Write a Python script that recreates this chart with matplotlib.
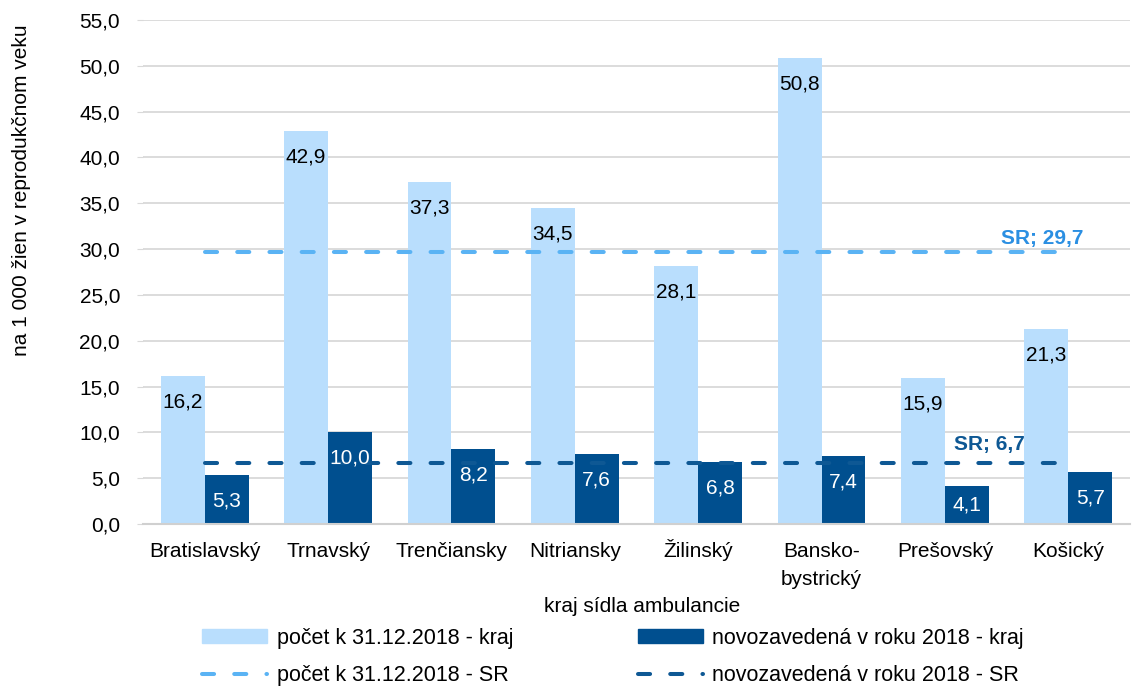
import matplotlib.pyplot as plt
import numpy as np
from matplotlib.lines import Line2D
from matplotlib.patches import Patch

plt.rcParams['font.family'] = ['Liberation Sans', 'DejaVu Sans']

regions = ["Bratislavský", "Trnavský", "Trenčiansky", "Nitriansky", "Žilinský",
           "Bansko-\nbystrický", "Prešovský", "Košický"]
count_2018 = [16.2, 42.9, 37.3, 34.5, 28.1, 50.8, 15.9, 21.3]
new_2018 = [5.3, 10.0, 8.2, 7.6, 6.8, 7.4, 4.1, 5.7]
sr_count = 29.7
sr_new = 6.7

light = "#B9DEFD"
dark = "#004F8F"
light_line = "#5AB3F4"
light_text = "#2B8FE2"
dark_line = "#0E5894"
fs = 15

fig = plt.figure(figsize=(11.35, 6.88), dpi=100)
ax = fig.add_axes([0.126, 0.2384, 0.8696, 0.7326])

x = np.arange(len(regions))
w = 0.356
b1 = ax.bar(x - w / 2, count_2018, w, color=light, zorder=2)
b2 = ax.bar(x + w / 2, new_2018, w, color=dark, zorder=2)

ax.plot(x, [sr_count] * len(x), color=light_line, lw=2.9,
        dashes=(3.0, 5.0), dash_capstyle="round", zorder=3)
ax.plot(x, [sr_new] * len(x), color=dark_line, lw=2.9,
        dashes=(3.0, 5.0), dash_capstyle="round", zorder=3)

fmt = lambda v: f"{v:.1f}".replace(".", ",")
px = 72 / 100  # points per pixel
for rect, v in zip(b1, count_2018):
    ax.annotate(fmt(v), (rect.get_x() + rect.get_width() / 2, v),
                xytext=(0, -26 * px), textcoords="offset points",
                ha="center", va="center", fontsize=fs, color="black", zorder=4)
for rect, v in zip(b2, new_2018):
    hpx = v * 504 / 55
    off = min(26, hpx - 19)
    ax.annotate(fmt(v), (rect.get_x() + rect.get_width() / 2, v),
                xytext=(0, -off * px), textcoords="offset points",
                ha="center", va="center", fontsize=fs, color="white", zorder=4)

ax.text(6.79, 31.2, "SR; 29,7", color=light_text, fontsize=fs,
        fontweight="bold", ha="center", va="center", zorder=4)
ax.text(6.36, 8.62, "SR; 6,7", color=dark_line, fontsize=fs,
        fontweight="bold", ha="center", va="center", zorder=4)

ax.set_xlim(-0.5, 7.5)
ax.set_ylim(0, 55)
yt = np.arange(0, 56, 5)
ax.set_yticks(yt)
ax.set_yticklabels([fmt(v) for v in yt], fontsize=fs)
ax.set_xticks(x)
ax.set_xticklabels([])
ax.tick_params(axis="x", length=0)
ax.tick_params(axis="y", length=4, color="#D9D9D9", pad=12.5)
ax.grid(axis="y", color="#D9D9D9", lw=1.3, zorder=0)
ax.set_axisbelow(True)
for s in ["top", "right", "left"]:
    ax.spines[s].set_visible(False)
ax.spines["bottom"].set_color("#D0D0D0")
ax.spines["bottom"].set_linewidth(1.5)

# category labels, one text per line so every first line shares a baseline
xform = ax.get_xaxis_transform()
for xi, name in zip(x, regions):
    for k, line in enumerate(name.split("\n")):
        ax.annotate(line, (xi, 0), xycoords=xform,
                    xytext=(0, -(33 + 28 * k) * px), textcoords="offset points",
                    ha="center", va="baseline", fontsize=fs, annotation_clip=False)

fig.text(642 / 1135, 1 - 606 / 688, "kraj sídla ambulancie",
         ha="center", va="center", fontsize=fs)
fig.text(22 / 1135, 1 - 190 / 688, "na 1 000 žien v reprodukčnom veku",
         rotation=90, ha="center", va="center", fontsize=fs)

handles = [
    Patch(color=light),
    Line2D([], [], color=light_line, lw=2.9, dashes=(3.0, 5.0),
           dash_capstyle="round"),
    Patch(color=dark),
    Line2D([], [], color=dark_line, lw=2.9, dashes=(3.0, 5.0),
           dash_capstyle="round"),
]
labels = ["počet k 31.12.2018 - kraj", "počet k 31.12.2018 - SR",
          "novozavedená v roku 2018 - kraj", "novozavedená v roku 2018 - SR"]
fig.legend(handles, labels, ncol=2, loc="center left",
           bbox_to_anchor=(183 / 1135, 1 - 657 / 688), frameon=False,
           fontsize=15.5, handlelength=3.0, handleheight=0.6,
           handletextpad=0.45, columnspacing=5.8, labelspacing=0.78)

fig.savefig("out.png", dpi=100)
